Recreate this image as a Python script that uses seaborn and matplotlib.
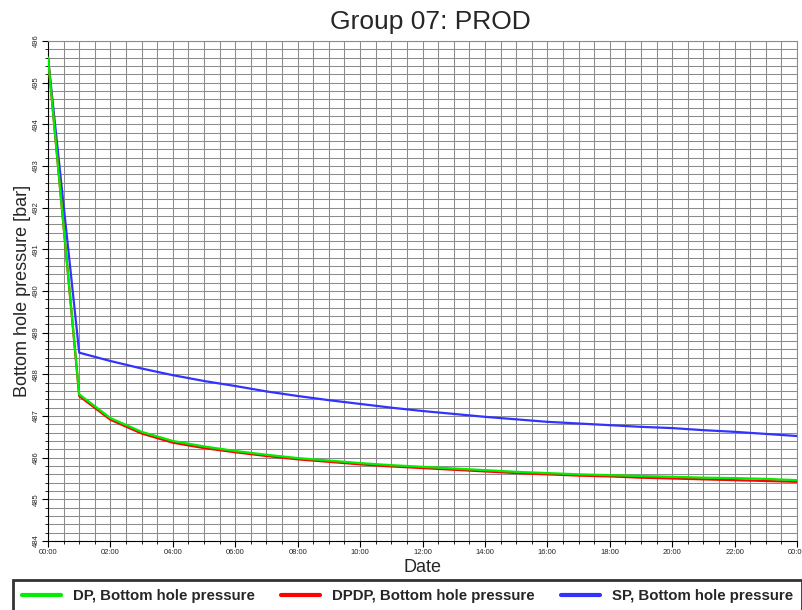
import numpy as np
import pandas as pd
import matplotlib
matplotlib.use("Agg")
import matplotlib.pyplot as plt
import seaborn as sns
from matplotlib.ticker import MultipleLocator, FixedLocator, FixedFormatter

# ---- data ----
hours = [0, 1, 2, 3, 4, 5, 6, 7, 8, 9, 10, 11, 12, 13, 14, 15, 16, 17, 18, 19, 20, 21, 22, 23, 24]
dp = [495.6, 487.52, 486.95, 486.62, 486.40, 486.27, 486.16, 486.07, 485.99, 485.93, 485.87,
      485.82, 485.78, 485.74, 485.70, 485.66, 485.63, 485.60, 485.58, 485.56, 485.54, 485.52,
      485.51, 485.49, 485.46]
dpdp = [495.6, 487.48, 486.91, 486.58, 486.36, 486.23, 486.13, 486.04, 485.96, 485.90, 485.84,
        485.79, 485.75, 485.71, 485.67, 485.63, 485.60, 485.57, 485.55, 485.52, 485.50, 485.48,
        485.46, 485.44, 485.42]
sp = [495.6, 488.52, 488.32, 488.14, 487.98, 487.84, 487.72, 487.59, 487.48, 487.38, 487.29,
      487.20, 487.12, 487.05, 486.98, 486.92, 486.86, 486.82, 486.78, 486.74, 486.71, 486.66,
      486.62, 486.57, 486.52]
series_names = ["DP, Bottom hole pressure", "DPDP, Bottom hole pressure", "SP, Bottom hole pressure"]
series_colors = ["#00ee00", "#ff0000", "#3333ff"]
x_tick_hours = [0, 2, 4, 6, 8, 10, 12, 14, 16, 18, 20, 22, 24]
x_tick_labels = ["00:00", "02:00", "04:00", "06:00", "08:00", "10:00", "12:00",
                 "14:00", "16:00", "18:00", "20:00", "22:00", "00:00"]
y_ticks = [484, 485, 486, 487, 488, 489, 490, 491, 492, 493, 494, 495, 496]

df = pd.DataFrame({"Date": hours * 3,
                   "Pressure": dp + dpdp + sp,
                   "Series": [series_names[0]] * len(hours) + [series_names[1]] * len(hours)
                             + [series_names[2]] * len(hours)})

sns.set_theme(style="white")
plt.rcParams['font.family'] = ['Liberation Sans', 'DejaVu Sans']

fig = plt.figure(figsize=(8.02, 6.10), dpi=100)
ax = fig.add_axes([48 / 802, 1 - 541 / 610, (797 - 48) / 802, (541 - 41) / 610])

order = [2, 1, 0]
for i in order:
    sub = df[df["Series"] == series_names[i]]
    sns.lineplot(data=sub, x="Date", y="Pressure", ax=ax, color=series_colors[i],
                 linewidth=1.6, label=series_names[i], legend=False, zorder=3 + (2 - i))

ax.set_xlim(0, 24)
ax.set_ylim(484, 496)
ax.xaxis.set_major_locator(FixedLocator(x_tick_hours))
ax.xaxis.set_major_formatter(FixedFormatter(x_tick_labels))
ax.xaxis.set_minor_locator(MultipleLocator(0.5))
ax.yaxis.set_major_locator(FixedLocator(y_ticks))
ax.yaxis.set_minor_locator(MultipleLocator(0.2))
ax.grid(True, which="both", color="#8c8c8c", linewidth=0.75, zorder=0)
ax.set_axisbelow(True)
for s in ax.spines.values():
    s.set_color("#8c8c8c")
    s.set_linewidth(0.8)
ax.spines["left"].set_color("black")
ax.spines["bottom"].set_color("black")

ax.tick_params(axis="both", which="major", labelsize=5.5, length=4, width=0.8, color="black",
               left=True, bottom=True, pad=2)
ax.tick_params(axis="both", which="minor", length=2, width=0.6, color="black", left=True, bottom=True)
for lab in ax.get_yticklabels():
    lab.set_rotation(90)
    lab.set_va("center")

ax.set_xlabel("Date", fontsize=13, labelpad=2)
ax.set_ylabel("Bottom hole pressure [bar]", fontsize=13, labelpad=1)
fig.text(430 / 802, 1 - 22 / 610, "Group 07: PROD", fontsize=19, ha="center", va="center")

handles, labels = ax.get_legend_handles_labels()
hmap = dict(zip(labels, handles))
leg = fig.legend([hmap[n] for n in series_names], series_names, loc="lower left",
                 bbox_to_anchor=(13 / 802, -0.003, 789 / 802, 0.06), mode="expand", ncol=3,
                 frameon=True, fancybox=False, prop={"weight": "bold", "size": 10.8},
                 handlelength=2.6, borderaxespad=0, columnspacing=1.0, borderpad=0.6)
leg.get_frame().set_edgecolor("black")
leg.get_frame().set_linewidth(2)
for h in leg.get_lines():
    h.set_linewidth(3)

fig.savefig("out.png", dpi=100)
